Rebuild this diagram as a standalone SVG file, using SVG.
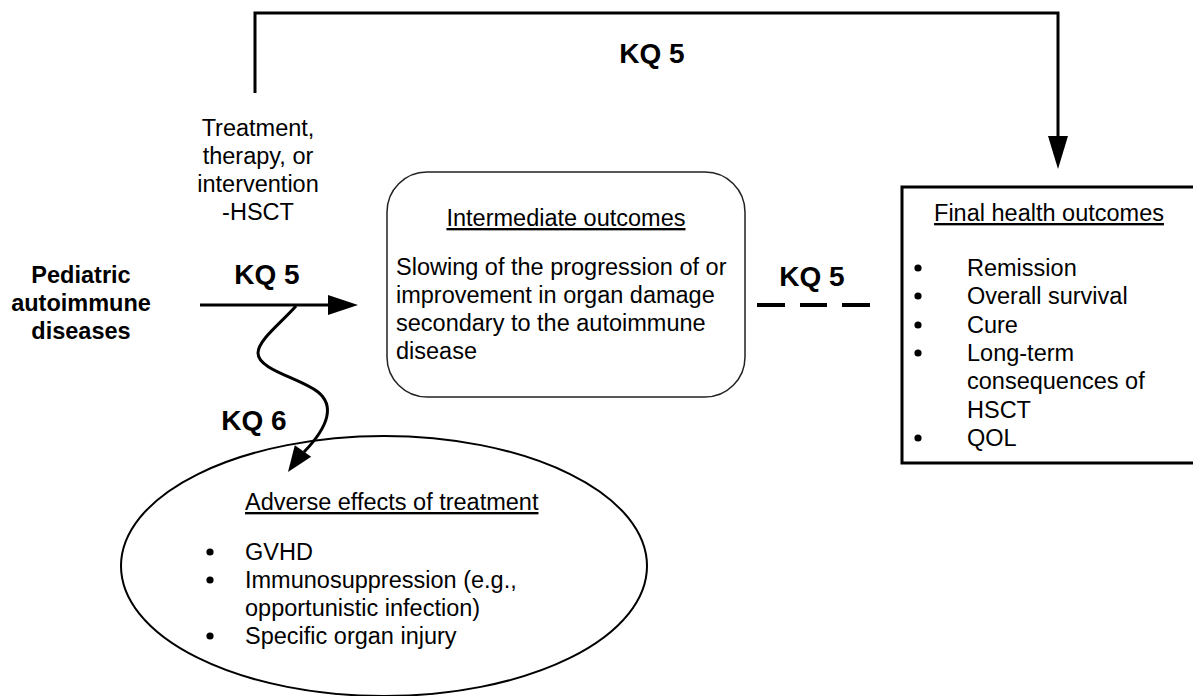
<svg xmlns="http://www.w3.org/2000/svg" width="1193" height="696" viewBox="0 0 1193 696">
<style>
text{font-family:"Liberation Sans",Arial,sans-serif;fill:#000}
.t{font-size:23.5px}
.b{font-size:23.5px;font-weight:bold}
.kq{font-size:28px;font-weight:bold}
.u{text-decoration:underline}
.c{text-anchor:middle}
.ln{fill:none;stroke:#000;stroke-width:3}
</style>
<defs>
<circle id="dot" r="3.6" fill="#000"/>
</defs>
<rect width="1193" height="696" fill="#fff"/>
<g id="connectors">
<path class="ln" d="M255,93 V13 H1058 V138"/>
<polygon points="1048,136 1068,136 1058,169" fill="#000"/>
<line class="ln" x1="200" y1="305" x2="330" y2="305"/>
<polygon points="328,295 358,305 328,315" fill="#000"/>
<g stroke="#000" stroke-width="4">
<line x1="757" y1="305" x2="785" y2="305"/>
<line x1="800" y1="305" x2="827" y2="305"/>
<line x1="842" y1="305" x2="870" y2="305"/>
</g>
<path class="ln" d="M296,306 C282,322 258,340 258,353 C258,370 300,378 318,392 C334,405 330,425 304,452"/>
<polygon points="288,472 294.8,445.2 311.2,456.8" fill="#000"/>
</g>
<g id="kq-labels">
<text class="kq c" x="652" y="63">KQ 5</text>
<text class="kq c" x="267" y="284">KQ 5</text>
<text class="kq c" x="812" y="286">KQ 5</text>
<text class="kq c" x="254" y="430">KQ 6</text>
</g>
<g id="treatment">
<text class="t c" x="258" y="136">Treatment,</text>
<text class="t c" x="258" y="164">therapy, or</text>
<text class="t c" x="258" y="192">intervention</text>
<text class="t c" x="258" y="220">-HSCT</text>
</g>
<g id="pediatric">
<text class="b c" x="81" y="283">Pediatric</text>
<text class="b c" x="81" y="311">autoimmune</text>
<text class="b c" x="81" y="339">diseases</text>
</g>
<g id="intermediate">
<rect x="387" y="172" width="358" height="225" rx="40" ry="40" fill="#fff" stroke="#222" stroke-width="1.5"/>
<text class="t c u" x="566" y="226">Intermediate outcomes</text>
<text class="t" x="396" y="275">Slowing of the progression of or</text>
<text class="t" x="396" y="303">improvement in organ damage</text>
<text class="t" x="396" y="331">secondary to the autoimmune</text>
<text class="t" x="396" y="359">disease</text>
</g>
<g id="final">
<rect x="902" y="187" width="320" height="276" fill="#fff" stroke="#000" stroke-width="3"/>
<text class="t c u" x="1049" y="221">Final health outcomes</text>
<use href="#dot" x="918" y="268"/>
<text class="t" x="967" y="276">Remission</text>
<use href="#dot" x="918" y="296"/>
<text class="t" x="967" y="304">Overall survival</text>
<use href="#dot" x="918" y="325"/>
<text class="t" x="967" y="333">Cure</text>
<use href="#dot" x="918" y="353"/>
<text class="t" x="967" y="361">Long-term</text>
<text class="t" x="967" y="389">consequences of</text>
<text class="t" x="967" y="418">HSCT</text>
<use href="#dot" x="918" y="438"/>
<text class="t" x="967" y="446">QOL</text>
</g>
<g id="adverse">
<ellipse cx="384" cy="566" rx="263" ry="130" fill="none" stroke="#000" stroke-width="2"/>
<text class="t u" x="245" y="510">Adverse effects of treatment</text>
<use href="#dot" x="210" y="552"/>
<text class="t" x="245" y="560">GVHD</text>
<use href="#dot" x="210" y="580"/>
<text class="t" x="245" y="588">Immunosuppression (e.g.,</text>
<text class="t" x="245" y="616">opportunistic infection)</text>
<use href="#dot" x="210" y="636"/>
<text class="t" x="245" y="644">Specific organ injury</text>
</g>
</svg>
